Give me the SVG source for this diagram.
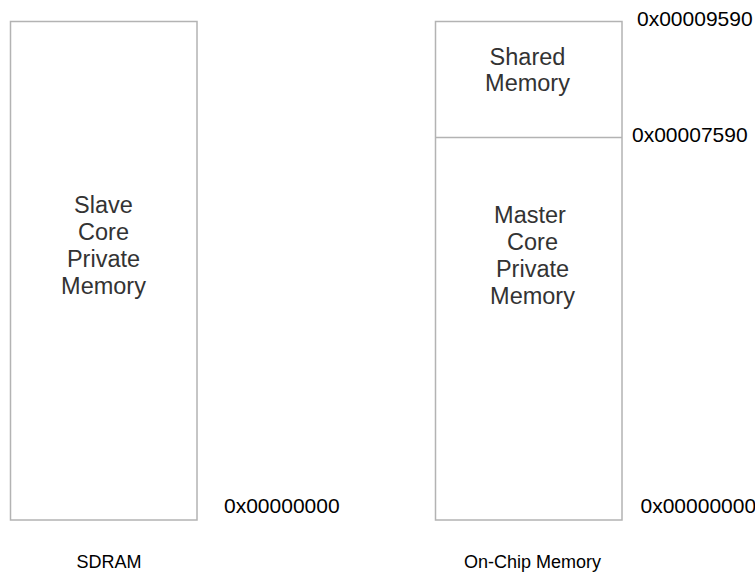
<svg xmlns="http://www.w3.org/2000/svg" width="755" height="577" viewBox="0 0 755 577">
  <style>
    .box { fill: #ffffff; stroke: #b3b3b3; stroke-width: 1.5; }
    .div { stroke: #b3b3b3; stroke-width: 1.5; fill: none; }
    .body { font-family: "Liberation Sans", Arial, sans-serif; font-size: 23.5px; fill: #333333; text-anchor: middle; }
    .addr { font-family: "Liberation Sans", Arial, sans-serif; font-size: 21px; fill: #000000; }
    .cap { font-family: "Liberation Sans", Arial, sans-serif; font-size: 18px; fill: #000000; text-anchor: middle; }
  </style>
  <rect width="755" height="577" fill="#ffffff"/>

  <!-- SDRAM column -->
  <g id="sdram">
    <rect class="box" x="10.5" y="21.5" width="186.5" height="498.5"/>
    <text class="body" x="103.5" y="212.5">Slave</text>
    <text class="body" x="103.5" y="240">Core</text>
    <text class="body" x="103.5" y="267">Private</text>
    <text class="body" x="103.5" y="294">Memory</text>
    <text class="addr" x="224" y="513">0x00000000</text>
    <text class="cap" x="109" y="567.5">SDRAM</text>
  </g>

  <!-- On-chip memory column -->
  <g id="onchip">
    <rect class="box" x="435.5" y="21.5" width="186.5" height="498.5"/>
    <line class="div" x1="435.5" y1="137.5" x2="622" y2="137.5"/>
    <text class="body" x="527.5" y="64.5">Shared</text>
    <text class="body" x="527.5" y="91">Memory</text>
    <text class="body" x="530" y="222.5">Master</text>
    <text class="body" x="532.5" y="249.5">Core</text>
    <text class="body" x="532.5" y="277">Private</text>
    <text class="body" x="532.5" y="303.5">Memory</text>
    <text class="addr" x="637" y="26">0x00009590</text>
    <text class="addr" x="632" y="141.5">0x00007590</text>
    <text class="addr" x="640.5" y="513">0x00000000</text>
    <text class="cap" x="532.5" y="568">On-Chip Memory</text>
  </g>
</svg>
